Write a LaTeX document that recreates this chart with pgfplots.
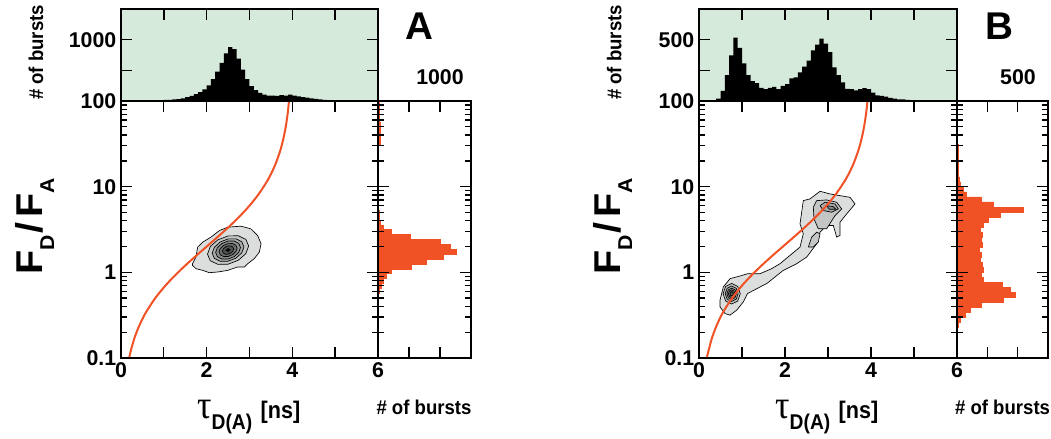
\documentclass[border=0pt]{standalone}
\usepackage{pgfplots}
\pgfplotsset{compat=1.18}
\usepackage{fontspec}
\setmainfont{Liberation Sans}
\newfontfamily\serifgreek{Liberation Serif}
\definecolor{histbg}{RGB}{213,234,219}
\definecolor{fretred}{RGB}{240,82,38}
\definecolor{c1}{RGB}{220,222,222}
\definecolor{c2}{RGB}{196,198,198}
\definecolor{c3}{RGB}{168,170,170}
\definecolor{c4}{RGB}{138,140,140}
\definecolor{c5}{RGB}{108,110,110}
\definecolor{c6}{RGB}{78,80,80}
\pgfplotsset{
  myBase/.style={scale only axis, anchor=south west,
    axis line style={line width=1.2pt},
    every tick/.style={line width=1pt, black},
    tick align=inside, major tick length=8.5pt, minor tick length=4.5pt,
    ticklabel style={font=\fontsize{16}{16}\bfseries\selectfont},
    axis on top},
  myCont/.style={draw=black, line width=0.5pt},
}
\newcommand\tlab{\fontsize{15}{15}\bfseries\selectfont}
\newcommand\fdfa{\resizebox{72.75pt}{\height}{\fontsize{28}{28}\bfseries\selectfont F\raisebox{-9pt}{\fontsize{15}{15}\selectfont D}\hspace{1pt}/\hspace{4pt}F\raisebox{-9pt}{\fontsize{15}{15}\selectfont A}}}
\newcommand\burstlab{\resizebox{71.25pt}{\height}{\tlab \# of bursts}}
\newcommand\taulab{\resizebox{77.25pt}{\height}{{\serifgreek\fontsize{30}{30}\selectfont τ}\raisebox{-8.5pt}{\fontsize{16}{16}\bfseries\selectfont D(A)}\hspace{7pt}{\fontsize{18}{18}\bfseries\selectfont [ns]}}}
\begin{document}
\begin{tikzpicture}
\useasboundingbox (0,0) rectangle (788.25pt,329.25pt);

% ================= PANEL A =================
\begin{axis}[myBase, ymode=log, ymin=0.1, ymax=100, ytick={0.1,1,10,100},
  minor ytick={0.2,0.3,0.4,0.5,0.6,0.7,0.8,0.9,2,3,4,5,6,7,8,9,20,30,40,50,60,70,80,90},
  at={(90.75pt,60.75pt)}, width=192.75pt, height=192.75pt,
  xmin=0, xmax=6, xtick={0,1,2,3,4,5,6}, xticklabels={0,,2,,4,,6},
  yticklabels={0.1,1,10,}]
\addplot[myCont, fill=c1] table[x=t, y expr={10^(\thisrow{l})}, row sep=\\] {
t l\\ 1.67 0.101\\ 1.75 0.178\\ 1.79 0.295\\ 1.91 0.353\\ 2.10 0.411\\ 2.30 0.488\\ 2.49 0.527\\ 2.80 0.539\\ 3.03 0.508\\ 3.19 0.430\\ 3.27 0.333\\ 3.23 0.236\\ 3.11 0.159\\ 2.96 0.101\\ 2.88 0.062\\ 2.72 0.062\\ 2.49 0.023\\ 2.26 0.004\\ 2.06 -0.004\\ 1.91 0.023\\ 1.75 0.043\\ 1.67 0.081\\ 1.67 0.101\\
};
\addplot[myCont, fill=c2] table[x=t, y expr={10^(\thisrow{l})}, row sep=\\] {
t l\\ 2.98 0.308\\ 2.916 0.384\\ 2.74 0.427\\ 2.50 0.425\\ 2.26 0.379\\ 2.084 0.301\\ 2.02 0.212\\ 2.084 0.136\\ 2.26 0.093\\ 2.50 0.095\\ 2.74 0.141\\ 2.916 0.219\\ 2.98 0.308\\
};
\addplot[myCont, fill=c3] table[x=t, y expr={10^(\thisrow{l})}, row sep=\\] {
t l\\ 2.87 0.297\\ 2.82 0.357\\ 2.685 0.391\\ 2.50 0.39\\ 2.315 0.354\\ 2.18 0.293\\ 2.13 0.223\\ 2.18 0.163\\ 2.315 0.129\\ 2.50 0.13\\ 2.685 0.166\\ 2.82 0.227\\ 2.87 0.297\\
};
\addplot[myCont, fill=c4] table[x=t, y expr={10^(\thisrow{l})}, row sep=\\] {
t l\\ 2.79 0.289\\ 2.751 0.338\\ 2.645 0.365\\ 2.50 0.365\\ 2.355 0.336\\ 2.249 0.288\\ 2.21 0.231\\ 2.249 0.183\\ 2.355 0.155\\ 2.50 0.155\\ 2.645 0.184\\ 2.751 0.233\\ 2.79 0.289\\
};
\addplot[myCont, fill=c5] table[x=t, y expr={10^(\thisrow{l})}, row sep=\\] {
t l\\ 2.71 0.281\\ 2.682 0.316\\ 2.605 0.336\\ 2.50 0.335\\ 2.395 0.315\\ 2.318 0.279\\ 2.29 0.239\\ 2.318 0.205\\ 2.395 0.185\\ 2.50 0.185\\ 2.605 0.206\\ 2.682 0.241\\ 2.71 0.281\\
};
\addplot[myCont, fill=c6] table[x=t, y expr={10^(\thisrow{l})}, row sep=\\] {
t l\\ 2.63 0.273\\ 2.613 0.295\\ 2.565 0.308\\ 2.50 0.308\\ 2.435 0.295\\ 2.387 0.273\\ 2.37 0.247\\ 2.387 0.225\\ 2.435 0.212\\ 2.50 0.212\\ 2.565 0.225\\ 2.613 0.247\\ 2.63 0.273\\
};
\addplot[fill=black, draw=black] table[x=t, y expr={10^(\thisrow{l})}, row sep=\\] {
t l\\ 2.55 0.262\\ 2.50 0.278\\ 2.45 0.255\\ 2.50 0.242\\ 2.55 0.262\\
};
\addplot[color=fretred, line width=1.5pt, smooth] coordinates {
(0.19,0.0997) (0.22,0.1164) (0.25,0.1333) (0.3,0.1622) (0.35,0.1918) (0.4,0.2222) (0.5,0.2857) (0.6,0.3529) (0.8,0.5) (1.0,0.6667) (1.2,0.8571) (1.4,1.0769) (1.6,1.3333) (1.8,1.6364) (2.0,2) (2.2,2.4444) (2.4,3) (2.6,3.7143) (2.8,4.6667) (3.0,6) (3.2,8) (3.4,11.333) (3.5,14) (3.6,18) (3.7,24.667) (3.75,30) (3.8,38) (3.85,51.333) (3.88,64.67) (3.9,78) (3.92,98) (3.925,104.7)};
\end{axis}

\begin{axis}[myBase, at={(90.75pt,253.5pt)}, width=192.75pt, height=69pt,
  xmin=0, xmax=6, ymin=100, ymax=1450,
  axis background/.style={fill=histbg},
  xtick={1,2,3,4,5}, xticklabels={}, xtick pos=right,
  ytick={100,550,1000}, yticklabels={100,,1000}]
\addplot[ybar interval, fill=black, draw=none] coordinates {
(0.0,102) (0.1,103) (0.2,104) (0.3,105) (0.4,106) (0.5,107) (0.6,108) (0.7,110) (0.8,112) (0.9,114)
(1.0,116) (1.1,118) (1.2,122) (1.3,128) (1.4,138) (1.5,155) (1.6,175) (1.7,200) (1.8,230) (1.9,270)
(2.0,330) (2.1,420) (2.2,530) (2.3,660) (2.4,800) (2.5,890) (2.6,860) (2.7,720) (2.8,560) (2.9,420)
(3.0,320) (3.1,260) (3.2,220) (3.3,195) (3.4,180) (3.5,178) (3.6,175) (3.7,185) (3.8,180) (3.9,192)
(4.0,178) (4.1,168) (4.2,158) (4.3,148) (4.4,138) (4.5,130) (4.6,122) (4.7,118) (4.8,114) (4.9,110)
(5.0,108) (5.1,106) (5.2,105) (5.3,104) (5.4,103) (5.5,102) (5.6,102) (5.7,101) (5.8,101) (5.9,101) (6.0,101)};
\end{axis}

\begin{axis}[myBase, ymode=log, ymin=0.1, ymax=100, ytick={0.1,1,10,100},
  minor ytick={0.2,0.3,0.4,0.5,0.6,0.7,0.8,0.9,2,3,4,5,6,7,8,9,20,30,40,50,60,70,80,90},
  at={(283.5pt,60.75pt)}, width=69.75pt, height=192.75pt,
  xmin=0, xmax=1500, xtick={500,1000}, xticklabels={}, yticklabels={}]
\addplot[xbar interval, fill=fretred, draw=fretred, line width=0.4pt] coordinates {
(10,0.5000) (25,0.5702) (50,0.6501) (82,0.7413) (126,0.8453) (207,0.9638) (535,1.0990) (780,1.2531) (1050,1.4289) (1260,1.6293) (1170,1.8578) (1000,2.1184) (520,2.4155) (207,2.7542) (82,3.1405) (44,3.5810) (27,4.0832) (16,4.6559) (6,5.3088) (0,6.0534) (30,31.62) (25,56.23) (0,100)};
\end{axis}

% ================= PANEL B =================
\begin{axis}[myBase, ymode=log, ymin=0.1, ymax=100, ytick={0.1,1,10,100},
  minor ytick={0.2,0.3,0.4,0.5,0.6,0.7,0.8,0.9,2,3,4,5,6,7,8,9,20,30,40,50,60,70,80,90},
  at={(524.25pt,60.75pt)}, width=193.5pt, height=192.75pt,
  xmin=0, xmax=6, xtick={0,1,2,3,4,5,6}, xticklabels={0,,2,,4,,6},
  yticklabels={0.1,1,10,}]
\addplot[myCont, fill=c1] table[x=t, y expr={10^(\thisrow{l})}, row sep=\\] {
t l\\ 0.488 -0.326\\ 0.566 -0.171\\ 0.721 -0.074\\ 0.953 -0.043\\ 1.13 -0.016\\ 1.419 -0.016\\ 1.69 0.043\\ 1.884 0.101\\ 2.116 0.198\\ 2.349 0.295\\ 2.426 0.45\\ 2.349 0.566\\ 2.426 0.837\\ 2.581 0.857\\ 2.814 0.946\\ 3.047 0.915\\ 3.279 0.895\\ 3.512 0.876\\ 3.628 0.798\\ 3.434 0.682\\ 3.279 0.585\\ 3.279 0.43\\ 3.202 0.411\\ 3.124 0.547\\ 2.969 0.547\\ 2.814 0.469\\ 2.736 0.333\\ 2.504 0.178\\ 2.271 0.101\\ 1.961 0.023\\ 1.574 -0.132\\ 1.419 -0.171\\ 1.13 -0.248\\ 1.031 -0.345\\ 0.876 -0.442\\ 0.721 -0.5\\ 0.605 -0.481\\ 0.488 -0.403\\ 0.488 -0.326\\
};
\addplot[myCont, fill=c2] table[x=t, y expr={10^(\thisrow{l})}, row sep=\\] {
t l\\ 2.659 0.76\\ 2.736 0.837\\ 2.969 0.845\\ 3.202 0.818\\ 3.318 0.74\\ 3.163 0.663\\ 2.969 0.508\\ 2.775 0.508\\ 2.674 0.624\\ 2.659 0.76\\
};
\addplot[myCont, fill=c2] table[x=t, y expr={10^(\thisrow{l})}, row sep=\\] {
t l\\ 2.543 0.295\\ 2.62 0.411\\ 2.736 0.469\\ 2.814 0.45\\ 2.775 0.353\\ 2.659 0.295\\ 2.543 0.295\\
};
\addplot[myCont, fill=c3] table[x=t, y expr={10^(\thisrow{l})}, row sep=\\] {
t l\\ 2.814 0.779\\ 2.930 0.818\\ 3.163 0.798\\ 3.24 0.74\\ 3.085 0.702\\ 2.891 0.721\\ 2.814 0.779\\
};
\addplot[myCont, fill=c4] table[x=t, y expr={10^(\thisrow{l})}, row sep=\\] {
t l\\ 2.969 0.779\\ 3.124 0.767\\ 3.186 0.736\\ 3.031 0.736\\ 2.969 0.779\\
};
\addplot[myCont, fill=c2] table[x=t, y expr={10^(\thisrow{l})}, row sep=\\] {
t l\\ 0.96 -0.25\\ 0.901 -0.165\\ 0.76 -0.13\\ 0.619 -0.165\\ 0.56 -0.25\\ 0.619 -0.335\\ 0.76 -0.37\\ 0.901 -0.335\\ 0.96 -0.25\\
};
\addplot[myCont, fill=c3] table[x=t, y expr={10^(\thisrow{l})}, row sep=\\] {
t l\\ 0.91 -0.25\\ 0.866 -0.186\\ 0.76 -0.16\\ 0.654 -0.186\\ 0.61 -0.25\\ 0.654 -0.314\\ 0.76 -0.34\\ 0.866 -0.314\\ 0.91 -0.25\\
};
\addplot[myCont, fill=c4] table[x=t, y expr={10^(\thisrow{l})}, row sep=\\] {
t l\\ 0.87 -0.25\\ 0.838 -0.204\\ 0.76 -0.185\\ 0.682 -0.204\\ 0.65 -0.25\\ 0.682 -0.296\\ 0.76 -0.315\\ 0.838 -0.296\\ 0.87 -0.25\\
};
\addplot[myCont, fill=c5] table[x=t, y expr={10^(\thisrow{l})}, row sep=\\] {
t l\\ 0.835 -0.25\\ 0.813 -0.218\\ 0.76 -0.205\\ 0.707 -0.218\\ 0.685 -0.25\\ 0.707 -0.282\\ 0.76 -0.295\\ 0.813 -0.282\\ 0.835 -0.25\\
};
\addplot[myCont, fill=c6] table[x=t, y expr={10^(\thisrow{l})}, row sep=\\] {
t l\\ 0.80 -0.25\\ 0.788 -0.232\\ 0.76 -0.225\\ 0.732 -0.232\\ 0.72 -0.25\\ 0.732 -0.268\\ 0.76 -0.275\\ 0.788 -0.268\\ 0.80 -0.25\\
};
\addplot[color=fretred, line width=1.5pt, smooth] coordinates {
(0.18,0.0990) (0.2,0.1105) (0.3,0.1703) (0.4,0.2333) (0.5,0.3) (0.6,0.3706) (0.8,0.525) (1.0,0.7) (1.2,0.9) (1.4,1.1308) (1.6,1.4) (1.8,1.7182) (2.0,2.1) (2.2,2.5667) (2.4,3.15) (2.6,3.9) (2.8,4.9) (3.0,6.3) (3.2,8.4) (3.4,11.9) (3.5,14.7) (3.6,18.9) (3.7,25.9) (3.75,31.5) (3.8,39.9) (3.85,53.9) (3.88,67.9) (3.9,81.9) (3.91,91.2) (3.92,102.9)};
\end{axis}

\begin{axis}[myBase, at={(524.25pt,253.5pt)}, width=193.5pt, height=69pt,
  xmin=0, xmax=6, ymin=100, ymax=700,
  axis background/.style={fill=histbg},
  xtick={1,2,3,4,5}, xticklabels={}, xtick pos=right,
  ytick={100,300,500}, yticklabels={100,,500}]
\addplot[ybar interval, fill=black, draw=none] coordinates {
(0.0,101) (0.1,102) (0.2,102) (0.3,104) (0.4,115) (0.5,166) (0.6,269) (0.7,397) (0.8,513) (0.9,447)
(1.0,346) (1.1,269) (1.2,230) (1.3,216) (1.4,186) (1.5,177) (1.6,186) (1.7,192) (1.8,177) (1.9,199)
(2.0,210) (2.1,247) (2.2,254) (2.3,287) (2.4,324) (2.5,364) (2.6,430) (2.7,467) (2.8,507) (2.9,474)
(3.0,419) (3.1,320) (3.2,269) (3.3,221) (3.4,179) (3.5,177) (3.6,170) (3.7,177) (3.8,184) (3.9,177)
(4.0,155) (4.1,137) (4.2,133) (4.3,129) (4.4,120) (4.5,115) (4.6,111) (4.7,111) (4.8,107) (4.9,104)
(5.0,103) (5.1,102) (5.2,102) (5.3,101) (5.4,101) (5.5,101) (5.6,101) (5.7,101) (5.8,101) (5.9,101) (6.0,101)};
\end{axis}

\begin{axis}[myBase, ymode=log, ymin=0.1, ymax=100, ytick={0.1,1,10,100},
  minor ytick={0.2,0.3,0.4,0.5,0.6,0.7,0.8,0.9,2,3,4,5,6,7,8,9,20,30,40,50,60,70,80,90},
  at={(717.75pt,60.75pt)}, width=68.25pt, height=192.75pt,
  xmin=0, xmax=750, xtick={250,500}, xticklabels={}, yticklabels={}]
\addplot[xbar interval, fill=fretred, draw=fretred, line width=0.4pt] coordinates {
(12,0.2270) (30,0.2600) (68,0.2979) (110,0.3404) (200,0.3890) (380,0.4457) (478,0.5105) (437,0.5834) (369,0.6683) (218,0.7638) (200,0.8750) (218,1) (205,1.1455) (191,1.3122) (200,1.4997) (183,1.7179) (205,1.9679) (200,2.2491) (210,2.5763) (191,2.9444) (218,3.3729) (260,3.8637) (355,4.4157) (546,5.0582) (300,5.7810) (200,6.6222) (80,7.5858) (55,8.6696) (30,9.9312) (20,11.350) (10,13.002) (6,31.62) (0,100)};
\end{axis}

% ================= TEXT =================
\node[rotate=90, anchor=base west, inner sep=0pt] at (31.5pt,123pt) {\fdfa};
\node[rotate=90, anchor=base west, inner sep=0pt] at (465pt,123pt) {\fdfa};
\node[rotate=90, anchor=base, inner sep=0pt] at (32.25pt,289.9pt) {\burstlab};
\node[rotate=90, anchor=base, inner sep=0pt] at (466pt,289.9pt) {\burstlab};
\node[anchor=base, inner sep=0pt] at (318pt,18pt) {\burstlab};
\node[anchor=base, inner sep=0pt] at (751.9pt,18pt) {\burstlab};
\node[anchor=base west, inner sep=0pt] at (147.75pt,15.4pt) {\taulab};
\node[anchor=base west, inner sep=0pt] at (581.25pt,15.4pt) {\taulab};
\node[anchor=base] at (314.25pt,299.25pt) {\fontsize{29}{29}\bfseries\selectfont A};
\node[anchor=base] at (749.25pt,299.25pt) {\fontsize{29}{29}\bfseries\selectfont B};
\node[anchor=base] at (330pt,265.5pt) {\fontsize{16}{16}\bfseries\selectfont 1000};
\node[anchor=base] at (763.5pt,265.5pt) {\fontsize{16}{16}\bfseries\selectfont 500};
\end{tikzpicture}
\end{document}
